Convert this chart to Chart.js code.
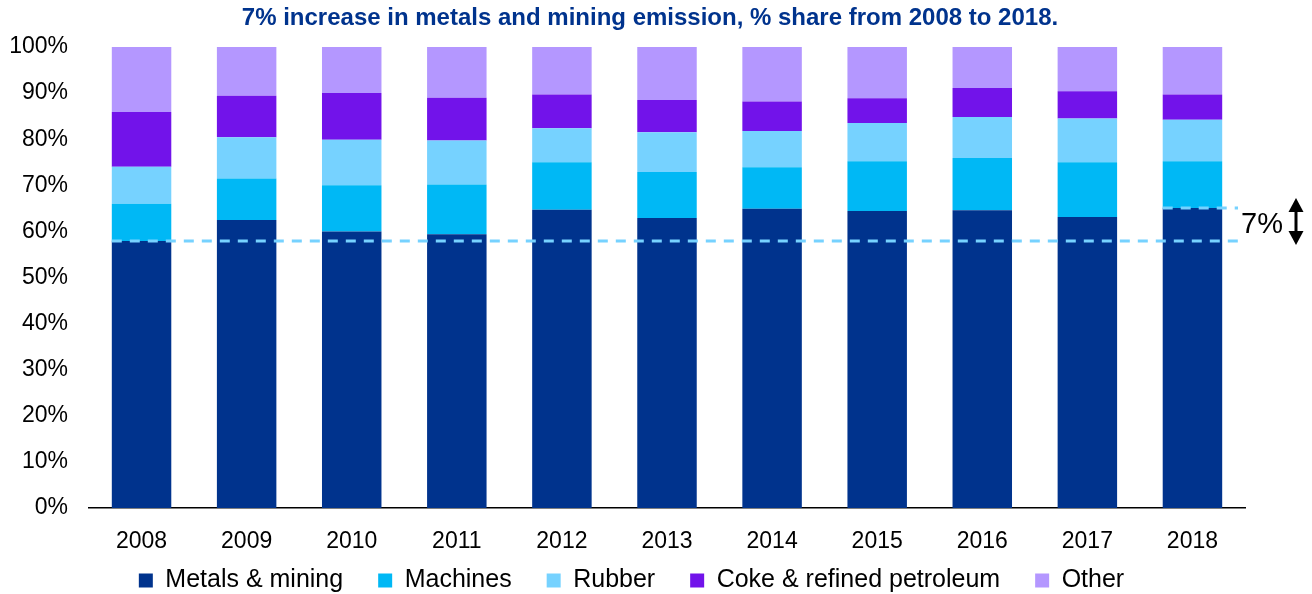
<!DOCTYPE html>
<html>
<head>
<meta charset="utf-8">
<title>Metals and mining emission share</title>
<script src="https://cdn.jsdelivr.net/npm/chart.js@4.4.1/dist/chart.umd.min.js"></script>
<style>
    html, body { margin: 0; padding: 0; background: #fff; }
    #wrap { width: 1312px; height: 594px; }
</style>
</head>
<body>
<div id="wrap"><canvas id="shareChart" width="1312" height="594"></canvas></div>
<script>
// Share of emissions by sector, % of total (each year sums to 100)
const years = ['2008', '2009', '2010', '2011', '2012', '2013', '2014', '2015', '2016', '2017', '2018'];
const metalsMining = [57.9, 62.5, 60.0, 59.4, 64.7, 62.9, 64.9, 64.4, 64.6, 63.1, 65.1];
const machines     = [8.1, 9.0, 10.0, 10.8, 10.3, 10.0, 9.0, 10.8, 11.3, 11.9, 10.1];
const rubber       = [8.0, 8.9, 9.9, 9.5, 7.4, 8.6, 7.9, 8.3, 8.9, 9.5, 9.0];
const cokePetrol   = [11.9, 9.0, 10.1, 9.3, 7.3, 7.0, 6.4, 5.4, 6.3, 5.9, 5.5];
const other        = [14.1, 10.6, 10.0, 11.0, 10.3, 11.5, 11.8, 11.1, 8.9, 9.6, 10.3];
const yTicks = [0, 10, 20, 30, 40, 50, 60, 70, 80, 90, 100];

const TITLE = '7% increase in metals and mining emission, % share from 2008 to 2018.';
const FONT = "'Liberation Sans', Arial, sans-serif";

const COLORS = {
    metals: '#00338D',
    machines: '#00B8F5',
    rubber: '#76D2FF',
    coke: '#7213EA',
    other: '#B497FF',
    dash: '#76D2FF',
    text: '#000000'
};

// Title text, drawn centred over the plot
const headline = {
    id: 'headline',
    afterDraw(chart) {
        const ctx = chart.ctx;
        ctx.save();
        ctx.font = `bold 24px ${FONT}`;
        ctx.fillStyle = COLORS.metals;
        ctx.textAlign = 'center';
        ctx.textBaseline = 'middle';
        ctx.fillText(TITLE, 650, 18);
        ctx.restore();
    }
};

// Axes are sized tightly; widen their label clip boxes so tick text isn't cut off
const labelRoom = {
    id: 'labelRoom',
    afterLayout(chart) {
        chart.scales.x.bottom = chart.height;
        chart.scales.y.left = 0;
    }
};

// Dashed reference lines at the first and last metals share, plus the change marker
const changeMarker = {
    id: 'changeMarker',
    afterDatasetsDraw(chart) {
        const ctx = chart.ctx;
        const x = chart.scales.x;
        const y = chart.scales.y;
        const first = metalsMining[0];
        const last = metalsMining[metalsMining.length - 1];
        const yLow = y.getPixelForValue(first);
        const yHigh = y.getPixelForValue(last);
        const half = chart.getDatasetMeta(0).data[0].width / 2;
        const leftX = x.getPixelForValue(0) - half;
        const lastBarLeft = x.getPixelForValue(years.length - 1) - half;
        const endX = x.right - 7;

        ctx.save();
        ctx.strokeStyle = COLORS.dash;
        ctx.lineWidth = 3;
        ctx.setLineDash([10, 8]);
        ctx.beginPath();
        ctx.moveTo(leftX, yLow);
        ctx.lineTo(endX, yLow);
        ctx.moveTo(lastBarLeft, yHigh);
        ctx.lineTo(endX, yHigh);
        ctx.stroke();
        ctx.setLineDash([]);

        // change label
        const diff = Math.round(last - first);
        ctx.fillStyle = COLORS.text;
        ctx.font = `29px ${FONT}`;
        ctx.textAlign = 'left';
        ctx.textBaseline = 'middle';
        ctx.fillText(diff + '%', endX + 3, (yLow + yHigh) / 2 + 1);

        // double-headed arrow
        const ax = 1296;
        const top = yHigh - 10;
        const bottom = yLow + 4;
        const head = 14;
        ctx.fillStyle = '#000';
        ctx.strokeStyle = '#000';
        ctx.lineWidth = 3;
        ctx.beginPath();
        ctx.moveTo(ax, top + head - 2);
        ctx.lineTo(ax, bottom - head + 2);
        ctx.stroke();
        ctx.beginPath();
        ctx.moveTo(ax, top);
        ctx.lineTo(ax - 7.5, top + head);
        ctx.lineTo(ax + 7.5, top + head);
        ctx.closePath();
        ctx.fill();
        ctx.beginPath();
        ctx.moveTo(ax, bottom);
        ctx.lineTo(ax - 7.5, bottom - head);
        ctx.lineTo(ax + 7.5, bottom - head);
        ctx.closePath();
        ctx.fill();
        ctx.restore();
    }
};

const series = [
    { label: 'Metals & mining', data: metalsMining, color: COLORS.metals },
    { label: 'Machines', data: machines, color: COLORS.machines },
    { label: 'Rubber', data: rubber, color: COLORS.rubber },
    { label: 'Coke & refined petroleum', data: cokePetrol, color: COLORS.coke },
    { label: 'Other', data: other, color: COLORS.other }
];

new Chart(document.getElementById('shareChart').getContext('2d'), {
    type: 'bar',
    data: {
        labels: years,
        datasets: series.map(s => ({
            label: s.label,
            data: s.data,
            backgroundColor: s.color,
            borderWidth: 0,
            barPercentage: 0.566,
            categoryPercentage: 1.0
        }))
    },
    options: {
        responsive: false,
        animation: false,
        layout: {
            padding: { top: 47, right: 67, bottom: 0, left: 18 }
        },
        scales: {
            x: {
                stacked: true,
                afterFit: scale => { scale.height = 25; },
                grid: { display: false, drawTicks: false },
                border: { display: true, color: '#000', width: 1.5 },
                ticks: {
                    color: COLORS.text,
                    padding: 20,
                    font: { family: FONT, size: 23 }
                }
            },
            y: {
                stacked: true,
                min: 0,
                max: 100,
                afterBuildTicks: scale => {
                    scale.ticks = yTicks.map(v => ({ value: v }));
                },
                afterFit: scale => { scale.width = 71; },
                grid: { display: false, drawTicks: false },
                border: { display: false },
                ticks: {
                    color: COLORS.text,
                    padding: 21,
                    font: { family: FONT, size: 23 },
                    callback: v => v + '%'
                }
            }
        },
        plugins: {
            title: { display: false },
            tooltip: { enabled: false },
            legend: {
                display: true,
                position: 'bottom',
                maxHeight: 61,
                labels: {
                    color: COLORS.text,
                    boxWidth: 14,
                    boxHeight: 14,
                    padding: 35,
                    font: { family: FONT, size: 25 }
                }
            }
        }
    },
    plugins: [headline, labelRoom, changeMarker]
});
</script>
</body>
</html>
